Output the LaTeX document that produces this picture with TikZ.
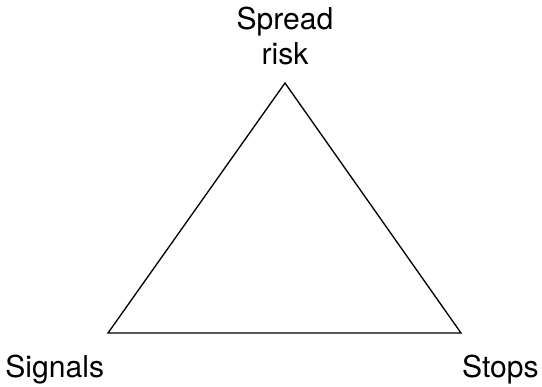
\documentclass[tikz,border=0pt]{standalone}
\usepackage{fontspec}
\setmainfont{TeX Gyre Heros}
\begin{document}
\begin{tikzpicture}[x=0.75pt, y=-0.75pt, every node/.style={inner sep=0pt, font=\fontsize{22.6}{26.3}\selectfont}]
  \useasboundingbox (0, 0) rectangle (542, 386);
  \coordinate (apex) at (285, 83);
  \coordinate (left) at (108, 333);
  \coordinate (right) at (461, 333);
  \draw[line width=1pt, line join=miter] (left) -- (apex) -- (right) -- cycle;
  \node (spread) at (285, 7) [anchor=north, align=center] {Spread\\risk};
  \node (signals) at (5, 377) [anchor=base west] {Signals};
  \node (stops) at (539, 377) [anchor=base east] {Stops};
\end{tikzpicture}
\end{document}
